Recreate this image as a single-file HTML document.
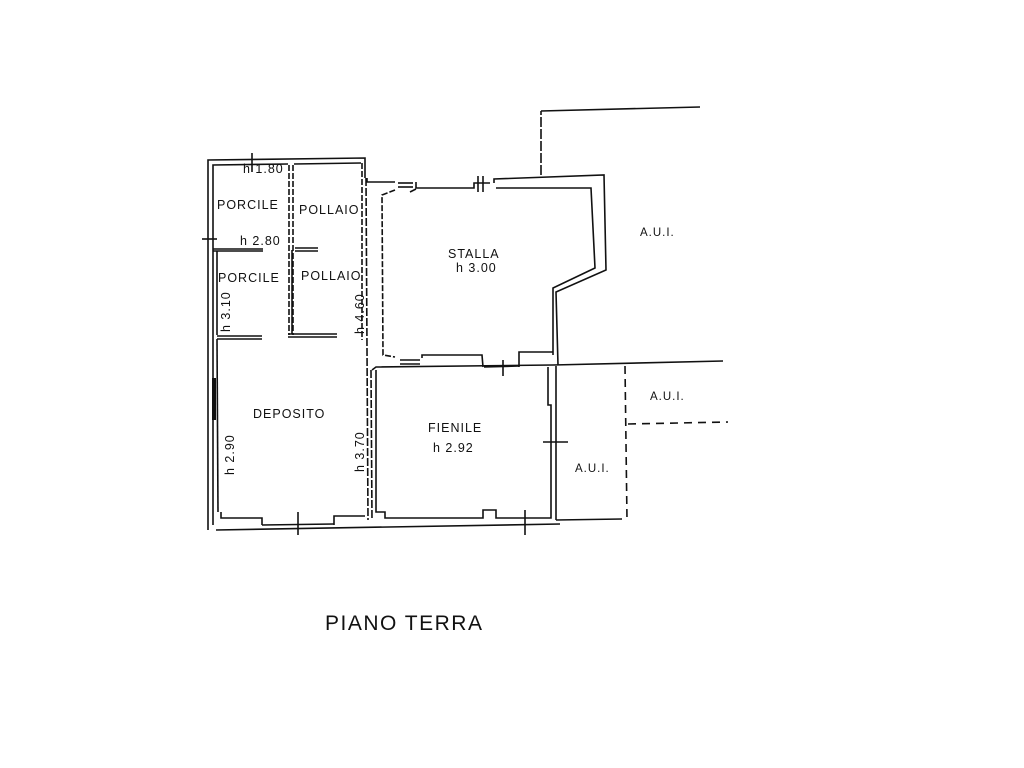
<!DOCTYPE html>
<html><head><meta charset="utf-8"><style>
html,body{margin:0;padding:0;background:#fff;}
svg{display:block}
text{font-family:"Liberation Sans",sans-serif;fill:#111;}
</style></head><body>
<svg width="1024" height="768" viewBox="0 0 1024 768" xmlns="http://www.w3.org/2000/svg">
<g stroke="#111" stroke-width="1.6" fill="none">
<polyline points="208,530 208,160 365,158 365,178"/>
<polyline points="213,525 213,165 288,164"/>
<line x1="294" y1="164" x2="361" y2="163"/>
<line x1="289" y1="165" x2="289" y2="335" stroke-dasharray="6,2"/>
<line x1="293" y1="165" x2="293" y2="335" stroke-dasharray="6,2"/>
<line x1="362" y1="163" x2="362" y2="340" stroke-dasharray="6,2"/>
<line x1="366" y1="178" x2="368" y2="520" stroke-dasharray="8,2"/>
<line x1="371" y1="370" x2="372" y2="520" stroke-dasharray="8,2"/>
<line x1="213" y1="249" x2="263" y2="249"/>
<line x1="213" y1="251" x2="263" y2="251"/>
<line x1="295" y1="248" x2="318" y2="248"/>
<line x1="295" y1="251" x2="318" y2="251"/>
<line x1="217" y1="251" x2="217" y2="335"/>
<line x1="292" y1="250" x2="292" y2="334"/>
<line x1="217" y1="336" x2="262" y2="336"/>
<line x1="217" y1="339" x2="262" y2="339"/>
<line x1="288" y1="334" x2="337" y2="334"/>
<line x1="288" y1="337" x2="337" y2="337"/>
<line x1="217" y1="339" x2="218" y2="512"/>
<line x1="214" y1="378" x2="214" y2="420" stroke-width="4"/>
<polyline points="221,512 221,518 262,518 262,525"/>
<polyline points="334,525 334,516 365,516"/>
<line x1="216" y1="530" x2="560" y2="524"/>
<line x1="262" y1="525" x2="334" y2="524"/>
<polyline points="367,178 367,182 395,182"/>
<polyline points="416,182 416,188 474,188 474,183 490,183"/>
<polyline points="494,183 494,179 604,175 606,270 556,292 558,365"/>
<polyline points="410,192 416,189"/>
<polyline points="496,188 591,188 595,268 553,288 553,355"/>
<line x1="398" y1="183" x2="413" y2="183"/>
<line x1="398" y1="187" x2="413" y2="187"/>
<polyline points="395,190 382,195 383,355 395,357" stroke-dasharray="6,2"/>
<polyline points="422,358 422,355 482,355 483,367"/>
<line x1="400" y1="360" x2="420" y2="360"/>
<line x1="400" y1="364" x2="420" y2="364"/>
<polyline points="519,367 519,352 553,352"/>
<line x1="484" y1="367" x2="519" y2="366"/>
<polyline points="372,370 376,367 553,365"/>
<polyline points="376,370 376,512 385,512 385,518 483,518 483,510 496,510 496,518 551,518 551,450"/>
<polyline points="548,367 548,405 551,405 551,450"/>
<line x1="556" y1="366" x2="556" y2="520"/>
<line x1="553" y1="365" x2="723" y2="361"/>
<line x1="556" y1="520" x2="622" y2="519"/>
<line x1="625" y1="366" x2="627" y2="520" stroke-dasharray="8,5"/>
<line x1="628" y1="424" x2="728" y2="422" stroke-dasharray="8,6"/>
<line x1="541" y1="175" x2="541" y2="111" stroke-dasharray="10,2"/>
<line x1="541" y1="111" x2="700" y2="107"/>
<line x1="252" y1="153" x2="252" y2="172"/>
<line x1="202" y1="239" x2="217" y2="239"/>
<line x1="478" y1="176" x2="478" y2="192"/>
<line x1="483" y1="176" x2="483" y2="192"/>
<line x1="503" y1="360" x2="503" y2="376"/>
<line x1="543" y1="442" x2="568" y2="442"/>
<line x1="298" y1="512" x2="298" y2="535"/>
<line x1="525" y1="510" x2="525" y2="535"/>
</g>
<g font-size="12.5" letter-spacing="1">
<text x="243" y="173">h 1.80</text>
<text x="217" y="209">PORCILE</text>
<text x="299" y="214">POLLAIO</text>
<text x="240" y="245">h 2.80</text>
<text x="218" y="282">PORCILE</text>
<text x="301" y="280">POLLAIO</text>
<text x="253" y="418">DEPOSITO</text>
<text x="448" y="258">STALLA</text>
<text x="456" y="272">h 3.00</text>
<text x="428" y="432">FIENILE</text>
<text x="433" y="452">h 2.92</text>
<text x="640" y="236" font-size="11.5">A.U.I.</text>
<text x="650" y="400" font-size="11.5">A.U.I.</text>
<text x="575" y="472" font-size="11.5">A.U.I.</text>
<text transform="translate(230,332) rotate(-90)">h 3.10</text>
<text transform="translate(364,334) rotate(-90)">h 4.60</text>
<text transform="translate(234,475) rotate(-90)">h 2.90</text>
<text transform="translate(364,472) rotate(-90)">h 3.70</text>
<text x="325" y="630" font-size="21" letter-spacing="1.5">PIANO TERRA</text>
</g>
</svg>
</body></html>
